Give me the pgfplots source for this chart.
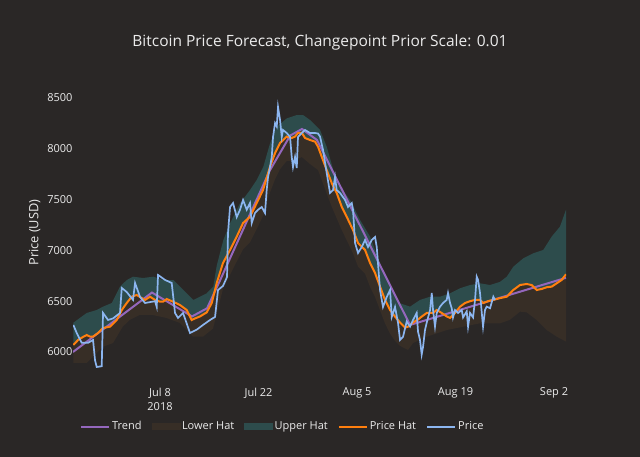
\documentclass[border=0pt]{standalone}
\usepackage{pgfplots}
\pgfplotsset{compat=1.18}
\usepackage{pgfplotstable}
\usepgfplotslibrary{fillbetween}
\usepackage{fontspec}
\setmainfont{Open Sans}
\definecolor{bg}{RGB}{42,39,38}
\definecolor{tealfill}{RGB}{45,76,76}
\definecolor{brownfill}{RGB}{55,46,38}
\definecolor{trendc}{RGB}{148,103,189}
\definecolor{hatc}{RGB}{255,127,14}
\definecolor{pricec}{RGB}{140,182,240}
\definecolor{txt}{RGB}{235,235,235}
\pagecolor{bg}
\pgfplotsset{
  lineleg/.style={legend image code/.code={\draw[##1] (0pt,0pt) -- (28pt,0pt);}},
  arealeg/.style={legend image code/.code={\fill[##1] (0pt,-3pt) rectangle (28pt,3pt);}},
}

% x: days since 2018-07-01
\pgfplotstableread{
d v
-5.32 6266
-4.84 6187
-4.13 6090
-3.23 6090
-2.52 6118
-2.24 5920
-2.00 5852
-1.29 5860
-1.10 6384
-0.39 6315
0.32 6330
1.31 6384
1.56 6630
2.27 6590
3.16 6512
3.45 6679
4.16 6541
4.87 6482
6.29 6500
6.53 6443
6.72 6758
7.71 6709
8.66 6679
8.85 6560
9.13 6384
9.56 6335
10.27 6384
11.26 6187
12.22 6220
13.11 6266
14.11 6315
14.82 6345
15.24 6610
15.95 6650
16.52 6738
16.66 7170
16.95 7427
17.38 7466
17.90 7328
18.37 7400
18.80 7496
19.32 7400
19.79 7466
20.03 7269
20.50 7368
20.93 7400
21.45 7427
21.92 7368
22.16 7594
22.35 7722
22.63 7820
22.88 7919
23.06 8116
23.35 8253
23.59 8220
23.77 8411
24.06 8283
24.30 8116
24.48 8185
25.01 8155
25.48 8116
25.72 7919
25.90 7820
26.19 7919
26.43 7810
26.61 8116
27.14 8155
27.61 8185
28.32 8155
29.03 8155
29.46 8150
29.74 8120
30.17 7988
30.69 7761
31.16 7565
31.59 7594
31.87 7722
32.11 7594
32.58 7565
33.30 7496
33.72 7427
34.25 7466
34.43 7400
34.72 7073
35.14 6974
35.67 7033
36.14 7102
36.56 7033
37.09 7102
37.56 7132
37.80 7033
38.27 6610
38.69 6443
39.22 6541
39.69 6610
39.93 6345
40.40 6443
40.83 6285
41.11 6118
41.54 6150
42.06 6300
42.53 6250
42.96 6315
43.48 6384
43.67 6200
43.95 6118
44.19 5975
44.38 6050
44.66 6216
44.91 6290
45.38 6413
45.62 6580
45.80 6413
46.08 6250
46.33 6384
46.80 6446
47.22 6482
47.74 6512
47.93 6580
48.22 6482
48.46 6430
48.64 6340
48.93 6413
49.36 6384
49.88 6413
50.07 6340
50.59 6400
50.78 6250
51.06 6384
51.49 6340
51.77 6512
52.01 6741
52.20 6710
52.48 6580
52.73 6384
52.91 6250
53.19 6413
53.43 6446
53.90 6430
54.37 6544
54.61 6512
}\tbprice

\pgfplotstableread{
d v
-5.32 6069
-4.65 6118
-3.94 6148
-3.42 6167
-2.95 6151
-2.52 6151
-1.81 6187
-1.10 6236
-0.11 6249
0.85 6315
1.56 6413
2.27 6482
2.98 6544
3.69 6561
4.40 6531
4.87 6512
5.58 6544
6.29 6512
7.00 6495
7.43 6495
7.95 6521
8.85 6495
9.84 6462
10.79 6413
11.50 6315
11.97 6330
12.69 6350
13.64 6390
14.35 6482
15.06 6679
15.95 6876
16.95 7004
17.90 7135
18.80 7269
19.79 7331
20.74 7466
21.64 7594
22.63 7823
23.35 7958
24.06 8057
25.01 8120
25.72 8106
26.19 8120
26.61 8155
27.14 8158
27.61 8106
28.32 8086
29.03 8070
29.46 8020
29.98 7922
30.69 7791
31.40 7663
32.11 7565
32.82 7430
33.53 7331
34.43 7200
35.14 7073
36.14 7004
36.85 6876
37.56 6777
38.27 6643
38.98 6512
39.69 6413
40.40 6348
41.11 6290
41.82 6240
42.25 6249
42.96 6290
43.67 6320
44.19 6348
44.91 6384
45.80 6384
46.33 6413
47.04 6384
47.74 6350
48.22 6335
48.93 6384
49.64 6446
50.35 6482
51.06 6500
51.77 6512
52.48 6512
52.95 6482
53.62 6500
54.33 6512
55.32 6530
56.28 6544
57.21 6610
58.17 6659
59.11 6669
59.82 6659
60.53 6610
61.24 6620
61.95 6637
62.66 6643
63.37 6676
64.08 6708
64.70 6765
}\tbyhat

\pgfplotstableread{
d v
-5.37 6000
5.86 6585
11.55 6350
13.68 6430
15.50 6700
22.63 7790
25.50 8130
27.18 8195
29.31 8086
42.53 6266
64.70 6730
}\tbtrend

\pgfplotstableread{
d v
-5.32 6288
-3.42 6384
-2.00 6413
-1.10 6446
0.14 6482
1.31 6643
2.27 6708
3.16 6741
4.58 6728
6.05 6741
7.47 6708
8.89 6708
9.84 6643
10.79 6578
11.73 6512
12.69 6544
13.64 6578
14.57 6643
15.06 6850
16.00 7102
16.95 7266
18.37 7463
19.79 7594
20.74 7692
21.68 7823
22.63 8052
23.59 8217
25.01 8299
26.43 8332
27.37 8330
28.32 8283
29.74 8185
30.69 8020
31.63 7791
32.58 7627
34.00 7496
35.43 7299
36.85 7135
38.27 6873
39.69 6643
41.11 6479
42.53 6446
43.95 6512
45.38 6544
46.80 6544
48.22 6578
49.64 6627
51.06 6659
52.48 6676
53.90 6659
55.32 6690
56.28 6741
57.21 6839
58.63 6922
60.05 6971
61.47 7004
62.66 7135
63.84 7233
64.70 7400
}\tbupper

\pgfplotstableread{
d v
-5.32 5892
-3.42 5892
-1.10 6052
0.32 6088
1.70 6249
2.69 6315
4.11 6364
5.96 6364
7.90 6335
9.84 6285
11.69 6151
13.11 6151
14.53 6230
15.95 6620
16.95 6760
17.90 6890
18.80 7010
19.79 7080
20.74 7210
21.64 7340
22.63 7570
23.35 7700
24.06 7800
25.01 7880
26.19 7880
27.14 7920
28.32 7850
29.46 7790
30.69 7560
31.40 7430
32.82 7200
33.53 7100
34.43 6970
35.14 6840
36.14 6770
36.85 6640
37.56 6540
38.27 6410
38.98 6280
39.69 6180
40.40 6110
41.11 6060
42.25 6020
42.96 6088
44.91 6150
47.74 6216
52.48 6282
55.32 6282
56.70 6315
58.17 6397
59.11 6390
60.53 6315
61.95 6216
63.37 6151
64.70 6102
}\tblower

\begin{document}
\begin{tikzpicture}
\path (0,0) rectangle (640pt,457pt);
\node[text=txt, font=\fontsize{15.5}{18}\selectfont] at (320pt,415pt) {Bitcoin Price Forecast, Changepoint Prior Scale: 0.01};
\begin{axis}[
  at={(73pt,84.7pt)}, anchor=south west,
  scale only axis, width=493pt, height=279.4pt,
  xmin=-5.37, xmax=64.70, ymin=5800, ymax=8550,
  axis line style={draw=none}, major tick length=0pt,
  xtick={7,21,35,49,63},
  xticklabels={{Jul 8\\2018},{Jul 22},{Aug 5},{Aug 19},{Sep 2}},
  xticklabel style={align=center, yshift=-12pt, text=txt, font=\fontsize{11}{14}\selectfont},
  ytick={6000,6500,7000,7500,8000,8500},
  yticklabel style={xshift=3pt, text=txt, font=\fontsize{11}{13}\selectfont},
  /pgf/number format/assume math mode=true,
  /pgf/number format/1000 sep={},
  ylabel={Price (USD)},
  ylabel style={text=txt, font=\fontsize{12.8}{15}\selectfont},
  legend style={at={(axis description cs:0.008,-0.194)}, anchor=west, draw=none, fill=none, text=txt, font=\fontsize{11}{13}\selectfont,
    /tikz/every even column/.append style={column sep=8pt}},
  legend columns=5, legend cell align=left,
]
\addplot[draw=none, name path=up, forget plot] table[x=d,y=v] {\tbupper};
\addplot[draw=none, name path=hat, forget plot] table[x=d,y=v] {\tbyhat};
\addplot[draw=none, name path=lo, forget plot] table[x=d,y=v] {\tblower};
\addplot[fill=tealfill, draw=none, forget plot] fill between[of=up and hat];
\addplot[fill=brownfill, draw=none, forget plot] fill between[of=hat and lo];
\addplot[trendc, line width=2pt, forget plot] table[x=d,y=v] {\tbtrend};
\addplot[hatc, line width=2pt, forget plot] table[x=d,y=v] {\tbyhat};
\addplot[pricec, line width=1.7pt, forget plot] table[x=d,y=v] {\tbprice};

\addlegendimage{lineleg, trendc, line width=2pt}
\addlegendentry{Trend}
\addlegendimage{arealeg, brownfill}
\addlegendentry{Lower Hat}
\addlegendimage{arealeg, tealfill}
\addlegendentry{Upper Hat}
\addlegendimage{lineleg, hatc, line width=2pt}
\addlegendentry{Price Hat}
\addlegendimage{lineleg, pricec, line width=2pt}
\addlegendentry{Price}
\end{axis}
\end{tikzpicture}
\end{document}
